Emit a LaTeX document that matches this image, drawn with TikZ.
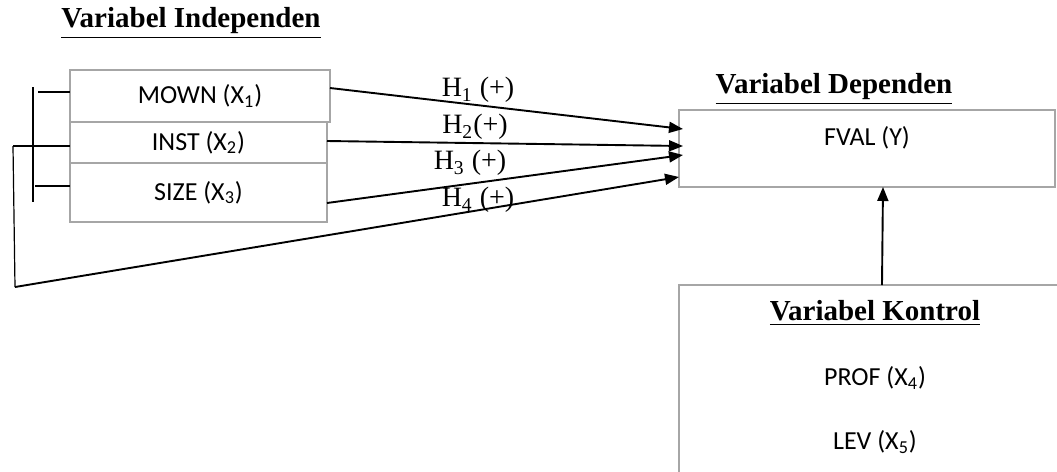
\documentclass[tikz,border=0pt]{standalone}
\usepackage{fontspec}
\setmainfont{Liberation Serif}
\newfontfamily\boxfont{Carlito}
\usetikzlibrary{arrows.meta,positioning}
\definecolor{boxgray}{HTML}{A6A6A6}
\definecolor{arrowink}{HTML}{000000}

\begin{document}
\begin{tikzpicture}[
  x=0.5pt,y=-0.5pt,
  >={Triangle[length=7pt,width=5.5pt]},
  varbox/.style={draw=boxgray,line width=1.1pt,inner sep=0pt,outer sep=0pt,
    anchor=north west,font=\boxfont\fontsize{13}{15}\selectfont},
  boxtext/.style={font=\boxfont\fontsize{13}{15}\selectfont,inner sep=0pt},
  title/.style={font=\bfseries\fontsize{14.5}{17}\selectfont,inner sep=0pt},
  hlabel/.style={font=\fontsize{14}{16}\selectfont,inner sep=0pt},
  link/.style={->,draw=arrowink,line width=0.95pt},
  bracket/.style={draw=arrowink,line width=0.6pt}
]
  \useasboundingbox (0,0) rectangle (1057,472);

  % independent variables
  \node[title] (indeptitle) at (191,23) {\underline{Variabel Independen}};
  \node[varbox,minimum width=130pt,minimum height=26pt] (mown) at (70,70)
    {MOWN (X\textsubscript{1})};
  \node[varbox,minimum width=128.5pt,minimum height=20.5pt] (inst) at (mown.south west)
    {INST (X\textsubscript{2})};
  \node[varbox,minimum width=128.5pt,minimum height=29.5pt] (size) at (inst.south west)
    {SIZE (X\textsubscript{3})};

  % dependent variable
  \node[title] (deptitle) at (834,89) {\underline{Variabel Dependen}};
  \node[varbox,minimum width=188pt,minimum height=38.5pt] (fval) at (679,110) {};
  \node[boxtext] (fvaltext) at (867,138) {FVAL (Y)};

  % control variables
  \node[varbox,minimum width=220pt,minimum height=120pt] (ctrl) at (679,285) {};
  \node[title] (ctrltitle) at (875,313) {\underline{Variabel Kontrol}};
  \node[boxtext] (prof) at (875,378) {PROF (X\textsubscript{4})};
  \node[boxtext] (lev) at (875,442) {LEV (X\textsubscript{5})};

  % bracket on the left
  \coordinate (brtop) at (33,87);
  \coordinate (brbot) at (33,202);
  \coordinate (jointop) at (13,146);
  \coordinate (joinbot) at (15,287);
  \draw[bracket] (brtop) -- (brbot);
  \draw[bracket] (38,92) -- (mown.west |- 0,92);
  \draw[bracket] (jointop) -- (inst.west |- 0,146);
  \draw[bracket] (35,186) -- (size.west |- 0,186);
  \draw[bracket] (jointop) -- (joinbot);

  % hypotheses
  \coordinate (h1end) at (683,129);
  \coordinate (h2end) at (683,146);
  \coordinate (h3end) at (683,155);
  \coordinate (h4end) at (679,177);
  \draw[link] (mown.east |- 0,88) -- (h1end);
  \draw[link] (inst.east |- 0,141) -- (h2end);
  \draw[link] (size.east |- 0,203) -- (h3end);
  \draw[link] (joinbot) -- (h4end);
  \node[hlabel] (h1) at (478,90) {H\textsubscript{1} (+)};
  \node[hlabel] (h2) at (475,127) {H\textsubscript{2}(+)};
  \node[hlabel] (h3) at (470,163) {H\textsubscript{3} (+)};
  \node[hlabel] (h4) at (478,200) {H\textsubscript{4} (+)};

  % control to dependent
  \draw[link] (ctrl.north west -| 882,0) -- (fval.south -| 883,0);
\end{tikzpicture}
\end{document}
